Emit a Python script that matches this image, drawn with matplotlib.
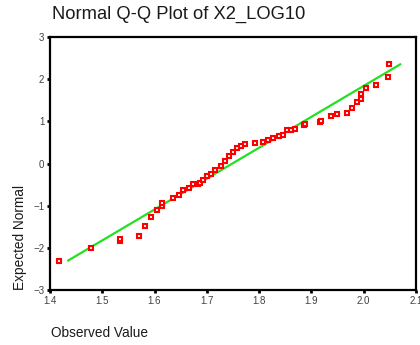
import numpy as np
import matplotlib
matplotlib.use('Agg')
import matplotlib.pyplot as plt

plt.rcParams['font.family'] = ['Liberation Sans', 'DejaVu Sans']

# observed value / expected normal pairs
observed = [1.417, 1.479, 1.534, 1.534, 1.571, 1.582, 1.594, 1.605, 1.614, 1.614,
            1.635, 1.647, 1.654, 1.666, 1.674, 1.683, 1.687, 1.693, 1.700, 1.709,
            1.716, 1.727, 1.735, 1.743, 1.750, 1.758, 1.766, 1.773, 1.793, 1.808,
            1.817, 1.827, 1.839, 1.846, 1.854, 1.862, 1.869, 1.886, 1.888, 1.917,
            1.919, 1.938, 1.950, 1.969, 1.977, 1.988, 1.995, 1.996, 2.004, 2.023,
            2.046, 2.048]
expected = [-2.31, -2.00, -1.84, -1.79, -1.72, -1.48, -1.25, -1.10, -0.99, -0.94,
            -0.82, -0.73, -0.63, -0.58, -0.49, -0.47, -0.45, -0.39, -0.30, -0.25,
            -0.16, -0.06, 0.06, 0.18, 0.28, 0.36, 0.41, 0.47, 0.49, 0.51,
            0.55, 0.60, 0.65, 0.69, 0.79, 0.79, 0.83, 0.91, 0.93, 0.98,
            1.02, 1.12, 1.17, 1.21, 1.31, 1.45, 1.54, 1.64, 1.78, 1.87,
            2.06, 2.35]

# reference line end points
line_x = [1.435, 2.070]
line_y = [-2.29, 2.35]

xticks = [1.4, 1.5, 1.6, 1.7, 1.8, 1.9, 2.0, 2.1]
yticks = [-3, -2, -1, 0, 1, 2, 3]

fig = plt.figure(figsize=(4.2, 3.45), dpi=100)
ax = fig.add_axes([0.119, 0.158, 0.871, 0.735])

ax.plot(line_x, line_y, color='#22e022', lw=1.6, zorder=2)
ax.plot(observed, expected, 's', ms=2.6, mew=1.5, mec='#ff0000', mfc='white',
        zorder=3)

ax.set_xlim(1.4, 2.1)
ax.set_ylim(-3, 3)
ax.set_xticks(xticks)
ax.set_xticklabels(['%.1f' % t for t in xticks])
ax.set_yticks(yticks)
ax.tick_params(direction='out', length=2, width=2, labelsize=7,
               labelcolor='#404040', pad=2)
for s in ax.spines.values():
    s.set_linewidth(1.6)
    s.set_color('black')

fig.text(0.124, 0.958, 'Normal Q-Q Plot of X2_LOG10', fontsize=13.2,
         ha='left', va='center', color='#1a1a1a')
fig.text(0.048, 0.16, 'Expected Normal', fontsize=9.8, rotation=90,
         ha='center', va='bottom', color='#1a1a1a')
fig.text(0.121, 0.035, 'Observed Value', fontsize=9.8, ha='left', va='center',
         color='#1a1a1a')

fig.savefig('out.png', dpi=100)
